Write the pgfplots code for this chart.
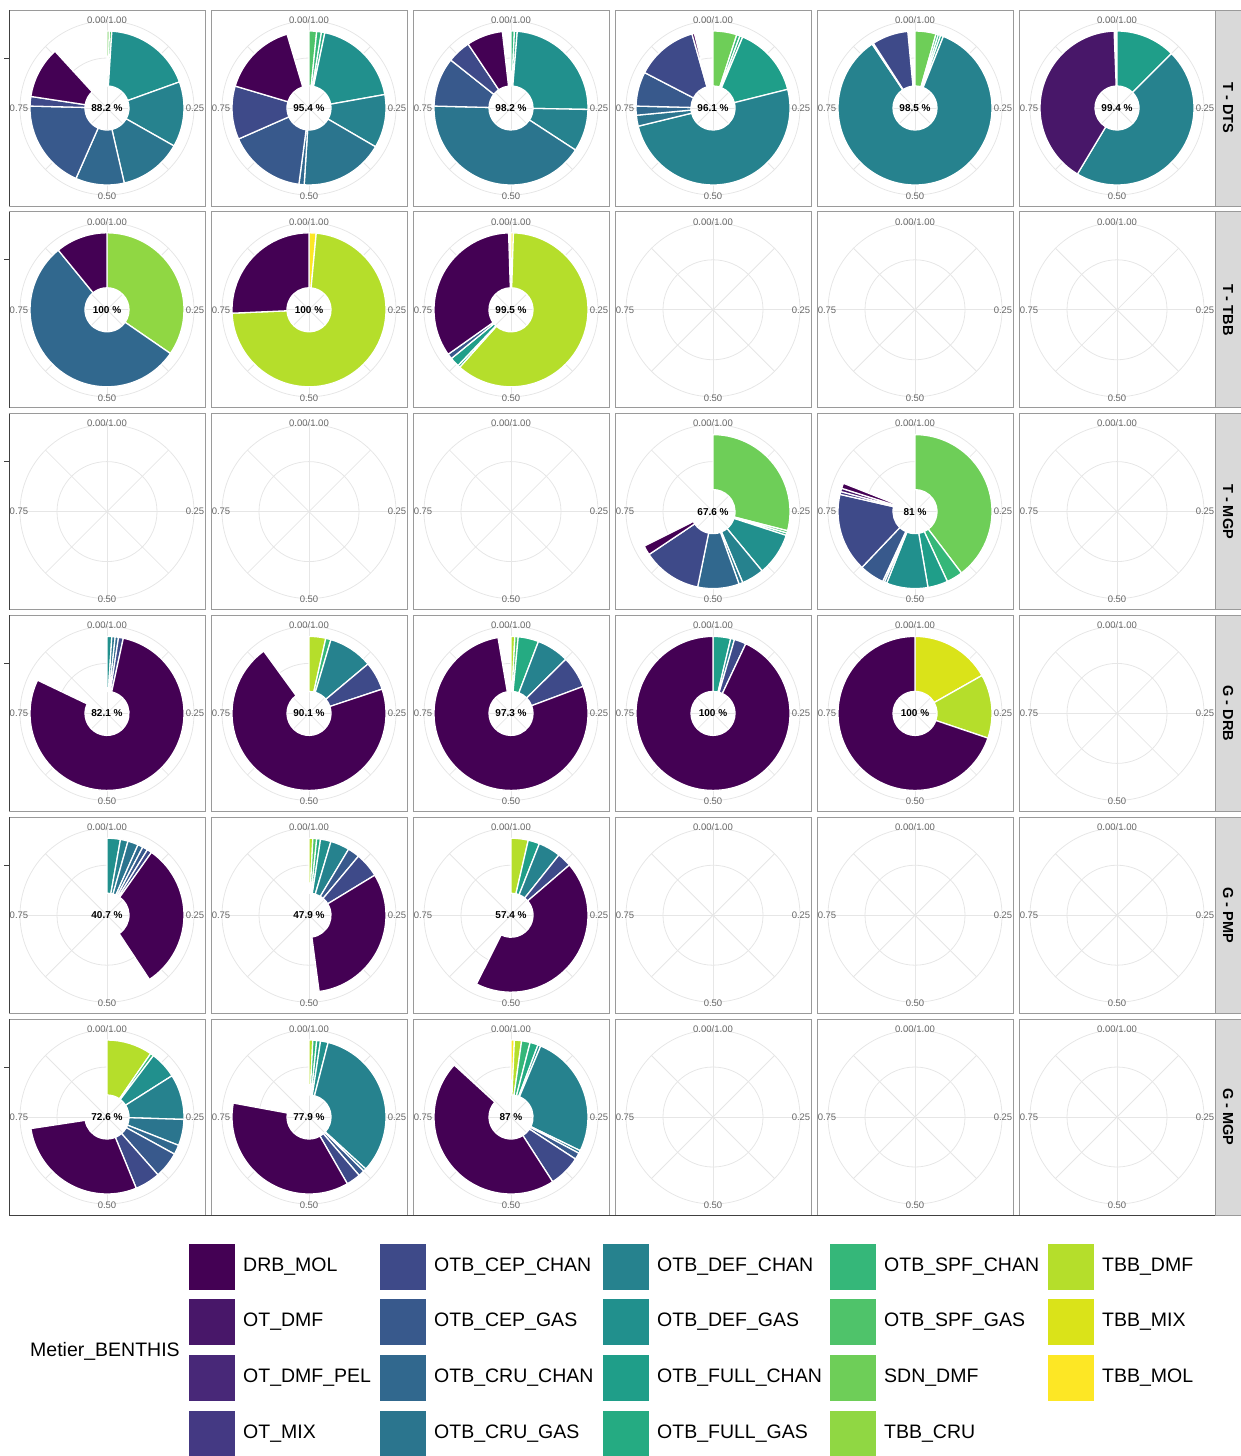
\documentclass[border=0pt]{standalone}
\usepackage{pgfplots}
\pgfplotsset{compat=1.18}
\usepackage{fontspec}
\setmainfont{Liberation Sans}

% viridis, one colour per Metier_BENTHIS level
\definecolor{drbmol}{HTML}{440154}
\definecolor{otdmf}{HTML}{481769}
\definecolor{otdmfpel}{HTML}{482878}
\definecolor{otmix}{HTML}{443983}
\definecolor{cepchan}{HTML}{3E4A89}
\definecolor{cepgas}{HTML}{38598C}
\definecolor{cruchan}{HTML}{31688E}
\definecolor{crugas}{HTML}{2B758E}
\definecolor{defchan}{HTML}{26828E}
\definecolor{defgas}{HTML}{21908D}
\definecolor{fullchan}{HTML}{1F9E89}
\definecolor{fullgas}{HTML}{25AB82}
\definecolor{spfchan}{HTML}{35B779}
\definecolor{spfgas}{HTML}{4FC36A}
\definecolor{sdndmf}{HTML}{6ECE58}
\definecolor{tbbcru}{HTML}{90D743}
\definecolor{tbbdmf}{HTML}{B5DE2B}
\definecolor{tbbmix}{HTML}{DAE319}
\definecolor{tbbmol}{HTML}{FDE725}
\definecolor{gridc}{HTML}{E6E6E6}
\definecolor{framec}{HTML}{9A9A9A}
\definecolor{labc}{HTML}{666666}
\definecolor{stripc}{HTML}{D9D9D9}

% one donut slice per data point, drawn around the axis origin
\def\rin{22pt}
\def\rout{77pt}
\pgfdeclareplotmark{wedge}{%
  \pgfmathsetmacro\wa{90-360*\ws}%
  \pgfmathsetmacro\wb{90-360*\we}%
  \pgfsetfillcolor{\pgfplotspointmeta}%
  \pgfsetstrokecolor{white}%
  \pgfsetlinewidth{1.3pt}%
  \pgfpathmoveto{\pgfpointpolar{\wa}{\rout}}%
  \pgfpatharc{\wa}{\wb}{\rout}%
  \pgfpathlineto{\pgfpointpolar{\wb}{\rin}}%
  \pgfpatharc{\wb}{\wa}{\rin}%
  \pgfpathclose
  \pgfusepath{fill,stroke}}

\tikzset{
  gridline/.style={draw=gridc, line width=0.8pt},
  ticklab/.style={font=\fontsize{9.5}{11}\selectfont, text=labc, inner sep=0pt},
  pct/.style={font=\bfseries\fontsize{10}{12}\selectfont, inner sep=0pt},
  legtext/.style={font=\fontsize{19.5}{22}\selectfont, anchor=west, inner sep=0pt},
}

\pgfplotsset{
  panel/.style 2 args={
    at={({(107+202*#1)*1pt},{-(108+201.8*#2)*1pt})}, anchor=center,
    x=1pt, y=1pt, xmin=-98, xmax=98, ymin=-98, ymax=98,
    xtick=\empty, ytick=\empty,
    axis line style={draw=framec, line width=0.8pt},
    clip=false,
  },
  wedges/.style={
    only marks, scatter, mark=wedge,
    point meta=explicit symbolic,
    visualization depends on={value \thisrow{s} \as \ws},
    visualization depends on={value \thisrow{e} \as \we},
    scatter/@pre marker code/.code={},
    scatter/@post marker code/.code={},
  },
}

\newcommand\polargrid{%
  \draw[gridline] (axis cs:0,0) circle[radius=50pt];
  \draw[gridline] (axis cs:0,0) circle[radius=87pt];
  \draw[gridline] (axis cs:0,-87) -- (axis cs:0,87);
  \draw[gridline] (axis cs:-87,0) -- (axis cs:87,0);
  \draw[gridline] (axis cs:-61.5,-61.5) -- (axis cs:61.5,61.5);
  \draw[gridline] (axis cs:-61.5,61.5) -- (axis cs:61.5,-61.5);
  \node[ticklab] at (axis cs:0,88) {0.00/1.00};
  \node[ticklab] at (axis cs:88,0) {0.25};
  \node[ticklab] at (axis cs:0,-88) {0.50};
  \node[ticklab] at (axis cs:-88,0) {0.75};
}
% #1 column, #2 row, #3 centre label, #4 wedges: c = metier, s/e = start/end share
\newcommand\donut[4]{%
  \begin{axis}[panel={#1}{#2}]
    \polargrid
    \addplot[wedges] table[row sep=\\, x expr=0, y expr=0, meta=c] {#4};
    \node[pct] at (axis cs:0,0) {#3};
  \end{axis}}
\newcommand\blank[2]{%
  \begin{axis}[panel={#1}{#2}]
    \polargrid
  \end{axis}}

\begin{document}
\begin{tikzpicture}
\useasboundingbox (0,0) rectangle (1240pt,-1456pt);

% ---- T - DTS
\donut{0}{0}{88.2 \%}{c s e\\
  sdndmf 0.000 0.005\\ spfgas 0.005 0.010\\ defgas 0.010 0.195\\
  defchan 0.195 0.332\\ crugas 0.332 0.464\\ cruchan 0.464 0.566\\
  cepgas 0.566 0.754\\ cepchan 0.754 0.774\\ drbmol 0.774 0.882\\}
\donut{1}{0}{95.4 \%}{c s e\\
  spfgas 0.000 0.016\\ spfchan 0.016 0.026\\ fullgas 0.026 0.033\\
  defgas 0.033 0.222\\ defchan 0.222 0.334\\ crugas 0.334 0.510\\
  cruchan 0.510 0.521\\ cepgas 0.521 0.684\\ cepchan 0.684 0.796\\
  drbmol 0.796 0.954\\}
\donut{2}{0}{98.2 \%}{c s e\\
  spfchan 0.000 0.007\\ fullgas 0.007 0.013\\ defgas 0.013 0.253\\
  defchan 0.253 0.342\\ crugas 0.342 0.754\\ cepgas 0.754 0.857\\
  cepchan 0.857 0.906\\ drbmol 0.906 0.982\\}
\donut{3}{0}{96.1 \%}{c s e\\
  sdndmf 0.000 0.050\\ spfchan 0.050 0.057\\ fullgas 0.057 0.063\\
  fullchan 0.063 0.211\\ defchan 0.211 0.712\\ crugas 0.712 0.735\\
  cruchan 0.735 0.754\\ cepgas 0.754 0.826\\ cepchan 0.826 0.956\\
  drbmol 0.956 0.961\\}
\donut{4}{0}{98.5 \%}{c s e\\
  sdndmf 0.000 0.044\\ spfchan 0.044 0.049\\ fullgas 0.049 0.054\\
  fullchan 0.054 0.060\\ defchan 0.060 0.906\\ cepgas 0.906 0.909\\
  cepchan 0.909 0.985\\}
\donut{5}{0}{99.4 \%}{c s e\\
  fullchan 0.000 0.125\\ defchan 0.125 0.586\\ otdmf 0.586 0.994\\}
% ---- T - TBB
\donut{0}{1}{100 \%}{c s e\\
  tbbcru 0.000 0.346\\ cruchan 0.346 0.891\\ drbmol 0.891 1.000\\}
\donut{1}{1}{100 \%}{c s e\\
  tbbmol 0.000 0.015\\ tbbdmf 0.015 0.743\\ drbmol 0.743 1.000\\}
\donut{2}{1}{99.5 \%}{c s e\\
  tbbmol 0.000 0.005\\ tbbdmf 0.005 0.616\\ fullgas 0.616 0.621\\
  fullchan 0.621 0.641\\ cepgas 0.641 0.652\\ drbmol 0.652 0.995\\}
\blank{3}{1}
\blank{4}{1}
\blank{5}{1}
% ---- T - MGP
\blank{0}{2}
\blank{1}{2}
\blank{2}{2}
\donut{3}{2}{67.6 \%}{c s e\\
  sdndmf 0.000 0.290\\ spfgas 0.290 0.295\\ fullgas 0.295 0.300\\
  defgas 0.300 0.390\\ defchan 0.390 0.437\\ crugas 0.437 0.445\\
  cruchan 0.445 0.532\\ cepchan 0.532 0.656\\ drbmol 0.656 0.676\\}
\donut{4}{2}{81 \%}{c s e\\
  sdndmf 0.000 0.397\\ spfchan 0.397 0.431\\ fullchan 0.431 0.473\\
  defgas 0.473 0.560\\ crugas 0.560 0.565\\ cruchan 0.565 0.569\\
  cepgas 0.569 0.621\\ cepchan 0.621 0.786\\ otmix 0.786 0.792\\
  otdmf 0.792 0.799\\ drbmol 0.799 0.810\\}
\blank{5}{2}
% ---- G - DRB
\donut{0}{3}{82.1 \%}{c s e\\
  defgas 0.000 0.010\\ crugas 0.010 0.017\\ cruchan 0.017 0.024\\
  cepchan 0.024 0.034\\ drbmol 0.034 0.821\\}
\donut{1}{3}{90.1 \%}{c s e\\
  tbbdmf 0.000 0.035\\ spfchan 0.035 0.046\\ defchan 0.046 0.139\\
  cepchan 0.139 0.199\\ drbmol 0.199 0.900\\}
\donut{2}{3}{97.3 \%}{c s e\\
  tbbdmf 0.000 0.008\\ spfgas 0.008 0.015\\ fullgas 0.015 0.058\\
  defchan 0.058 0.126\\ cepchan 0.126 0.193\\ drbmol 0.193 0.973\\}
\donut{3}{3}{100 \%}{c s e\\
  fullchan 0.000 0.037\\ defchan 0.037 0.045\\ cepchan 0.045 0.070\\
  drbmol 0.070 1.000\\}
\donut{4}{3}{100 \%}{c s e\\
  tbbmix 0.000 0.168\\ tbbdmf 0.168 0.302\\ drbmol 0.302 1.000\\}
\blank{5}{3}
% ---- G - PMP
\donut{0}{4}{40.7 \%}{c s e\\
  defgas 0.000 0.028\\ defchan 0.028 0.044\\ crugas 0.044 0.066\\
  cruchan 0.066 0.077\\ cepgas 0.077 0.088\\ cepchan 0.088 0.098\\
  drbmol 0.098 0.407\\}
\donut{1}{4}{47.9 \%}{c s e\\
  tbbdmf 0.000 0.008\\ spfgas 0.008 0.016\\ fullgas 0.016 0.024\\
  defgas 0.024 0.046\\ defchan 0.046 0.086\\ cepgas 0.086 0.111\\
  cepchan 0.111 0.163\\ drbmol 0.163 0.479\\}
\donut{2}{4}{57.4 \%}{c s e\\
  tbbdmf 0.000 0.036\\ fullchan 0.036 0.060\\ defchan 0.060 0.107\\
  cepchan 0.107 0.137\\ drbmol 0.137 0.574\\}
\blank{3}{4}
\blank{4}{4}
\blank{5}{4}
% ---- G - MGP
\donut{0}{5}{72.6 \%}{c s e\\
  tbbdmf 0.000 0.096\\ spfchan 0.096 0.103\\ defgas 0.103 0.160\\
  defchan 0.160 0.255\\ crugas 0.255 0.310\\ cruchan 0.310 0.330\\
  cepgas 0.330 0.385\\ cepchan 0.385 0.438\\ drbmol 0.438 0.726\\}
\donut{1}{5}{77.9 \%}{c s e\\
  tbbdmf 0.000 0.008\\ spfchan 0.008 0.016\\ fullchan 0.016 0.024\\
  defgas 0.024 0.040\\ defchan 0.040 0.368\\ crugas 0.368 0.374\\
  cepgas 0.374 0.387\\ cepchan 0.387 0.417\\ drbmol 0.417 0.779\\}
\donut{2}{5}{87 \%}{c s e\\
  tbbmol 0.000 0.007\\ tbbdmf 0.007 0.022\\ spfchan 0.022 0.040\\
  fullgas 0.040 0.057\\ defgas 0.057 0.063\\ defchan 0.063 0.322\\
  crugas 0.322 0.328\\ cepgas 0.328 0.342\\ cepchan 0.342 0.409\\
  drbmol 0.409 0.868\\}
\blank{3}{5}
\blank{4}{5}
\blank{5}{5}

\begin{scope}[x=1pt, y=-1pt]
  % facet strips
  \foreach \lab [count=\r from 0] in {T - DTS, T - TBB, T - MGP, G - DRB, G - PMP, G - MGP} {
    \pgfmathsetmacro\yc{108+201.8*\r}
    \filldraw[fill=stripc, draw=framec, line width=0.8pt] (1215,\yc-98) rectangle (1241,\yc+98);
    \node[rotate=-90, font=\bfseries\fontsize{14.5}{16}\selectfont] at (1228,\yc) {\lab};
    % left axis line and tick
    \draw[black!75, line width=0.9pt] (9,\yc-98) -- (9,\yc+98);
    \draw[black!75, line width=0.9pt] (4,\yc-50) -- (9,\yc-50);
  }
  \draw[black!75, line width=0.9pt] (9,1215) -- (1215,1215);

  % legend
  \node[legtext] at (30,1351) {Metier\_BENTHIS};
  \foreach \name/\col/\x/\y in {
      DRB\_MOL/drbmol/189/1244, OT\_DMF/otdmf/189/1299, OT\_DMF\_PEL/otdmfpel/189/1355, OT\_MIX/otmix/189/1411,
      OTB\_CEP\_CHAN/cepchan/380/1244, OTB\_CEP\_GAS/cepgas/380/1299, OTB\_CRU\_CHAN/cruchan/380/1355, OTB\_CRU\_GAS/crugas/380/1411,
      OTB\_DEF\_CHAN/defchan/603/1244, OTB\_DEF\_GAS/defgas/603/1299, OTB\_FULL\_CHAN/fullchan/603/1355, OTB\_FULL\_GAS/fullgas/603/1411,
      OTB\_SPF\_CHAN/spfchan/830/1244, OTB\_SPF\_GAS/spfgas/830/1299, SDN\_DMF/sdndmf/830/1355, TBB\_CRU/tbbcru/830/1411,
      TBB\_DMF/tbbdmf/1048/1244, TBB\_MIX/tbbmix/1048/1299, TBB\_MOL/tbbmol/1048/1355} {
    \fill[\col] (\x,\y) rectangle (\x+46,\y+46);
    \node[legtext] at (\x+54,\y+23) {\name};
  }
\end{scope}
\end{tikzpicture}
\end{document}
